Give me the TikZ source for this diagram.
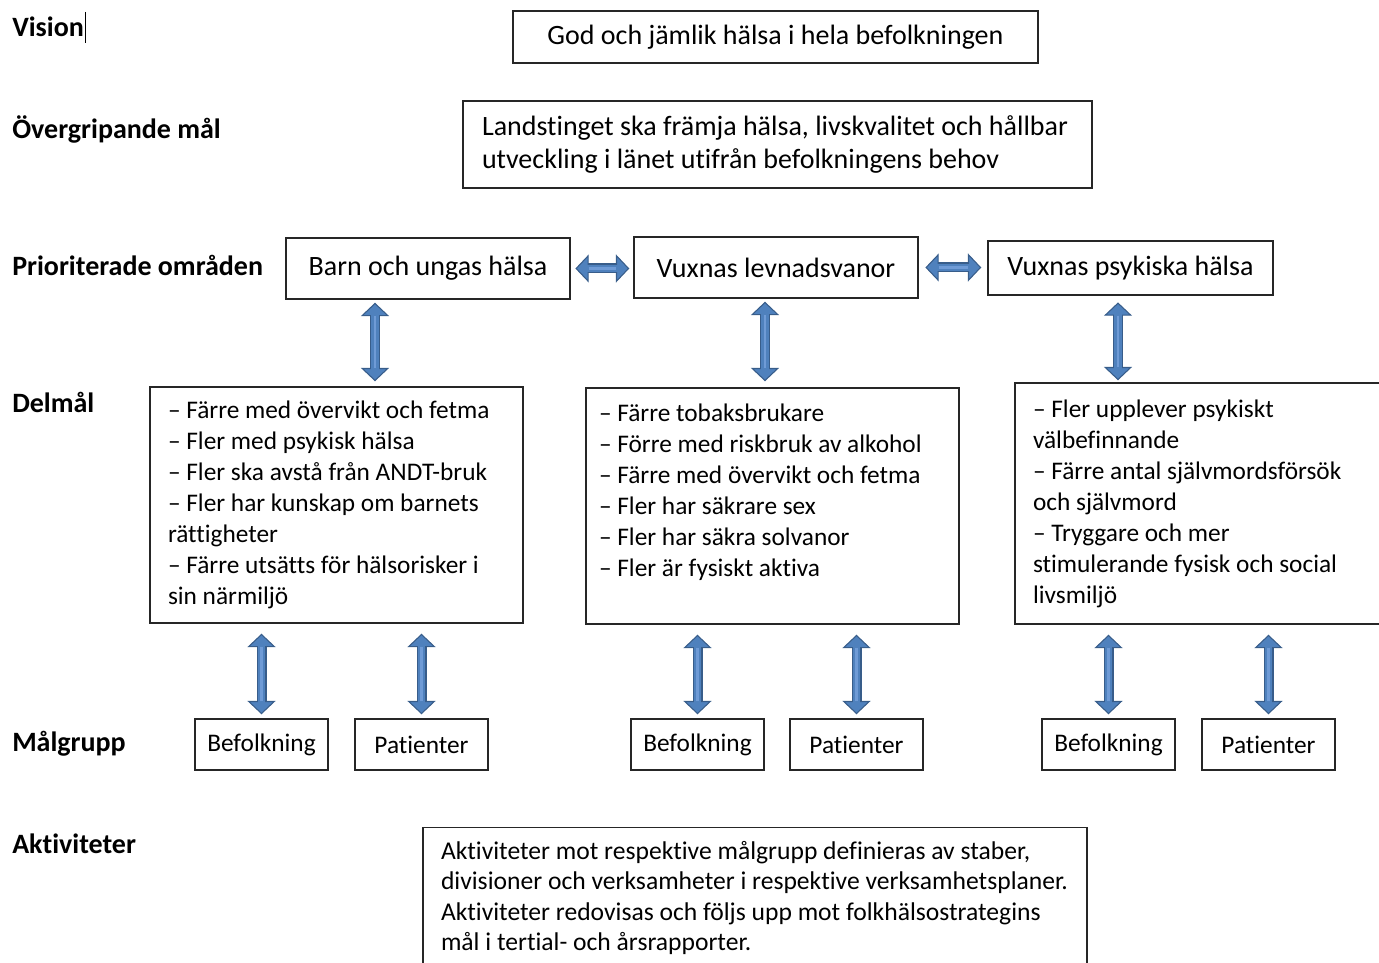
\documentclass[tikz,border=0pt]{standalone}
\usepackage{fontspec}
\setmainfont[Ligatures=NoCommon]{Carlito}
\usetikzlibrary{arrows.meta}
\definecolor{arrowfill}{HTML}{4F81BD}
\definecolor{arrowline}{HTML}{385D8A}
\definecolor{arrowshine}{HTML}{6F9BD6}
\definecolor{boxline}{HTML}{262626}
\tikzset{
  box/.style={draw=boxline, line width=1.1pt, inner sep=0pt, font=\fontsize{19}{23.25}\selectfont},
  areabox/.style={box, minimum width=213pt, minimum height=45.75pt, font=\fontsize{21}{25}\selectfont},
  goalbox/.style={box, align=flush left, text width=252.75pt, inner xsep=13.5pt, minimum height=177pt},
  groupbox/.style={box, minimum width=99.75pt, minimum height=38.25pt},
  rowlabel/.style={anchor=base west, inner sep=0pt, font=\fontsize{21}{25}\selectfont\bfseries},
  duo/.style 2 args={line width=7.5pt, draw=arrowline,
    {Triangle[length=10pt, width=21pt, fill=arrowfill, line width=0.8pt]}-{Triangle[length=10pt, width=21pt, fill=arrowfill, line width=0.8pt]},
    shorten <=#1, shorten >=#2,
    postaction={draw=arrowfill, line width=5.6pt, -, shorten <=#1+8.5pt, shorten >=#2+8.5pt},
    postaction={draw=arrowshine, line width=1.8pt, -, shorten <=#1+10pt, shorten >=#2+10pt}}
}
\begin{document}
\begin{tikzpicture}[x=0.75pt, y=-0.75pt]
	\useasboundingbox (0,0) rectangle (1379,963);
	\clip (0,0) rectangle (1379,963);
	% row labels
	\node [rowlabel] (lvision) at (12,37) {Vision};
	\draw [line width=0.75pt] (85,12) -- (85,43);
	\node [rowlabel] (lmal) at (12,139) {Övergripande mål};
	\node [rowlabel] (lomr) at (12,276) {Prioriterade områden};
	\node [rowlabel] (ldel) at (12,412) {Delmål};
	\node [rowlabel] (lgrupp) at (12,751) {Målgrupp};
	\node [rowlabel] (lakt) at (12,853) {Aktiviteter};
	% vision and overall goal
	\node [box, minimum width=393.75pt, minimum height=39pt, font=\fontsize{21}{25}\selectfont] (vision) at (775.5,37)
	  {God och jämlik hälsa i hela befolkningen};
	\node [box, align=flush left, text width=443.25pt, inner xsep=14.25pt, minimum height=65.25pt,
	  font=\fontsize{21}{24.75}\selectfont] (mal) at (777.5,144.5)
	  {Landstinget ska främja hälsa, livskvalitet och hållbar\\
	   utveckling i länet utifrån befolkningens behov};
	% prioritised areas
	\node [areabox] (barn) at (428,268.5) {Barn och ungas hälsa};
	\node [areabox] (vanor) at (776,267.5) {Vuxnas levnadsvanor};
	\node [areabox, minimum width=213.75pt, minimum height=40.5pt] (psyk) at (1130.5,268)
	  {Vuxnas psykiska hälsa};
	% sub-goals
	\node [goalbox] (dbarn) at (336.5,505)
	  {– Färre med övervikt och fetma\\
	   – Fler med psykisk hälsa\\
	   – Fler ska avstå från ANDT-bruk\\
	   – Fler har kunskap om barnets\\
	   rättigheter\\
	   – Färre utsätts för hälsorisker i\\
	   sin närmiljö};
	\node [goalbox, text width=260.25pt, inner xsep=9.75pt] (dvanor) at (772.5,506)
	  {– Färre tobaksbrukare\\
	   – Förre med riskbruk av alkohol\\
	   – Färre med övervikt och fetma\\
	   – Fler har säkrare sex\\
	   – Fler har säkra solvanor\\
	   – Fler är fysiskt aktiva\\
	   \mbox{}};
	\node [goalbox, minimum height=180.75pt] (dpsyk) at (1201.5,503.5)
	  {– Fler upplever psykiskt\\
	   välbefinnande\\
	   – Färre antal självmordsförsök\\
	   och självmord\\
	   – Tryggare och mer\\
	   stimulerande fysisk och social\\
	   livsmiljö};
	% target groups
	\node [groupbox] (bef1) at (261.5,744.5) {Befolkning};
	\node [groupbox] (pat1) at (421.5,744.5) {Patienter};
	\node [groupbox] (bef2) at (697.5,744.5) {Befolkning};
	\node [groupbox] (pat2) at (856.5,744.5) {Patienter};
	\node [groupbox] (bef3) at (1108.5,744.5) {Befolkning};
	\node [groupbox] (pat3) at (1268.5,744.5) {Patienter};
	% activities
	\node [box, align=flush left, text width=471pt, inner xsep=13.5pt, minimum height=105.75pt,
	  font=\fontsize{19.2}{22.9}\selectfont] (akt) at (755,898)
	  {Aktiviteter mot respektive målgrupp definieras av staber,\\
	   divisioner och verksamheter i respektive verksamhetsplaner.\\
	   Aktiviteter redovisas och följs upp mot folkhälsostrategins\\
	   mål i tertial- och årsrapporter.};
	% arrows
	\coordinate (xbarn) at (375,0);
	\coordinate (xvanor) at (765,0);
	\coordinate (xpsyk) at (1118,0);
	\draw [duo={3.5pt}{3pt}] (barn.east) -- (barn.east -| vanor.west);
	\draw [duo={5pt}{4.5pt}] (vanor.east) -- (vanor.east -| psyk.west);
	\draw [duo={2.25pt}{3.75pt}] (barn.south -| xbarn) -- (dbarn.north -| xbarn);
	\draw [duo={2.25pt}{4.5pt}] (vanor.south -| xvanor) -- (dvanor.north -| xvanor);
	\draw [duo={5pt}{1.5pt}] (psyk.south -| xpsyk) -- (dpsyk.north -| xpsyk);
	\draw [duo={7.5pt}{3pt}] (dbarn.south -| bef1.north) -- (bef1.north);
	\draw [duo={7.5pt}{3pt}] (dbarn.south -| pat1.north) -- (pat1.north);
	\draw [duo={7.5pt}{3pt}] (dvanor.south -| bef2.north) -- (bef2.north);
	\draw [duo={7.5pt}{3pt}] (dvanor.south -| pat2.north) -- (pat2.north);
	\draw [duo={7.5pt}{3pt}] (dpsyk.south -| bef3.north) -- (bef3.north);
	\draw [duo={7.5pt}{3pt}] (dpsyk.south -| pat3.north) -- (pat3.north);
\end{tikzpicture}
\end{document}
